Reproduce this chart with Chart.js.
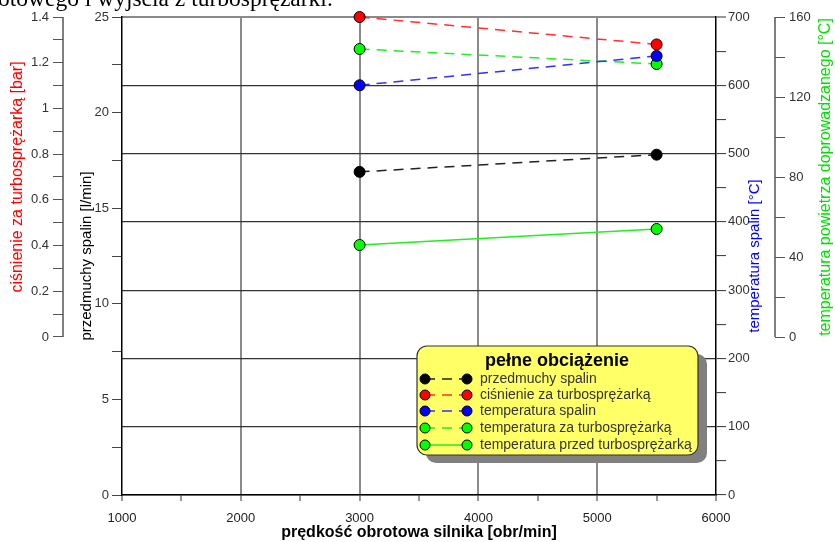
<!DOCTYPE html>
<html>
<head>
<meta charset="utf-8">
<script src="https://cdn.jsdelivr.net/npm/chart.js@4.4.1/dist/chart.umd.min.js"></script>
<style>
  body { margin: 0; background: #fff; }
  #wrap { position: relative; width: 835px; height: 542px; overflow: hidden; }
  #caption { position: absolute; left: -2px; top: -13px; font: 23.5px/23.5px "Liberation Serif", serif; color: #000; white-space: nowrap; }
</style>
</head>
<body>
<div id="wrap">
  <canvas id="chart" width="835" height="542"></canvas>
  <div id="caption">otowego i wyjścia z turbosprężarki.</div>
</div>
<script>
// data
const speeds = [3000, 5500];
const przedmuchy = [16.9, 17.8];      // l/min
const cisnienie = [1.4, 1.28];        // bar
const tempSpalin = [600, 643];        // °C
const tempZa = [144, 136.5];          // °C
const tempPrzed = [46, 54];           // °C

const xTicks = [1000, 1500, 2000, 2500, 3000, 3500, 4000, 4500, 5000, 5500, 6000];
const lTicks = [0, 2.5, 5, 7.5, 10, 12.5, 15, 17.5, 20, 22.5, 25];
const pTicks = [0, 0.1, 0.2, 0.3, 0.4, 0.5, 0.6, 0.7, 0.8, 0.9, 1, 1.1, 1.2, 1.3, 1.4];
const tTicks = [0, 50, 100, 150, 200, 250, 300, 350, 400, 450, 500, 550, 600, 650, 700];
const aTicks = [0, 20, 40, 60, 80, 100, 120, 140, 160];

const FONT = "'Liberation Sans', Arial, sans-serif";
const tickFont = { family: FONT, size: 13 };
const CLEAR = 'rgba(0,0,0,0)';

function fixedTicks(values) {
    return scale => { scale.ticks = values.map(v => ({ value: v })); };
}

function series(ys) {
    return speeds.map((x, i) => ({ x: x, y: ys[i] }));
}

function makeSet(label, ys, axis, line, fill, dash) {
    return {
        label: label,
        data: series(ys),
        yAxisID: axis,
        borderColor: line,
        borderWidth: 1.5,
        borderDash: dash,
        pointRadius: 5.5,
        pointHoverRadius: 5.5,
        pointBackgroundColor: fill,
        pointBorderColor: '#000',
        pointBorderWidth: 1,
        clip: false
    };
}

// axis titles, short axis lines and the yellow legend box
const decor = {
    id: 'decor',
    afterDraw(chart) {
        const ctx = chart.ctx;
        const s = chart.scales;
        ctx.save();

        ctx.strokeStyle = '#555';
        ctx.lineWidth = 1.5;
        ctx.beginPath();
        ctx.moveTo(s.yP.right, s.yP.getPixelForValue(0));
        ctx.lineTo(s.yP.right, s.yP.getPixelForValue(1.4));
        ctx.moveTo(s.yA.left, s.yA.getPixelForValue(0));
        ctx.lineTo(s.yA.left, s.yA.getPixelForValue(160));
        ctx.stroke();

        const titles = [
            ['ciśnienie za turbosprężarką [bar]', '#ff0000', 16, 17.5, (s.yP.getPixelForValue(0) + s.yP.getPixelForValue(1.4)) / 2],
            ['przedmuchy spalin [l/min]', '#000', 15, 87, (s.yL.top + s.yL.bottom) / 2],
            ['temperatura spalin [°C]', '#0000ff', 15, 755, (s.yT.top + s.yT.bottom) / 2],
            ['temperatura powietrza doprowadzanego [°C]', '#00e000', 16, 826, (s.yA.getPixelForValue(0) + s.yA.getPixelForValue(160)) / 2]
        ];
        titles.forEach(t => {
            ctx.save();
            ctx.translate(t[3], t[4]);
            ctx.rotate(-Math.PI / 2);
            ctx.font = t[2] + 'px ' + FONT;
            ctx.fillStyle = t[1];
            ctx.textAlign = 'center';
            ctx.textBaseline = 'middle';
            ctx.fillText(t[0], 0, 0);
            ctx.restore();
        });

        // legend
        const bx = 417, by = 346, bw = 281, bh = 109;
        ctx.fillStyle = '#808080';
        ctx.beginPath();
        ctx.roundRect(bx + 9, by + 8, bw, bh, 10);
        ctx.fill();
        ctx.fillStyle = '#ffff66';
        ctx.strokeStyle = '#333';
        ctx.lineWidth = 1.2;
        ctx.beginPath();
        ctx.roundRect(bx, by, bw, bh, 10);
        ctx.fill();
        ctx.stroke();

        ctx.fillStyle = '#000';
        ctx.font = 'bold 18px ' + FONT;
        ctx.textAlign = 'center';
        ctx.textBaseline = 'middle';
        ctx.fillText('pełne obciążenie', 557, 361);

        const rows = [379, 395, 411, 428, 445];
        chart.data.datasets.forEach((ds, i) => {
            const y = rows[i];
            ctx.strokeStyle = ds.borderColor;
            ctx.lineWidth = 1.5;
            ctx.setLineDash(ds.borderDash);
            ctx.beginPath();
            ctx.moveTo(425, y);
            ctx.lineTo(467, y);
            ctx.stroke();
            ctx.setLineDash([]);
            [425, 467].forEach(px => {
                ctx.beginPath();
                ctx.arc(px, y, 5, 0, Math.PI * 2);
                ctx.fillStyle = ds.pointBackgroundColor;
                ctx.fill();
                ctx.strokeStyle = '#000';
                ctx.lineWidth = 1;
                ctx.stroke();
            });
            ctx.fillStyle = '#333';
            ctx.font = '14px ' + FONT;
            ctx.textAlign = 'left';
            ctx.fillText(ds.label, 480, y);
        });

        ctx.restore();
    }
};

new Chart(document.getElementById('chart'), {
    type: 'line',
    data: {
        datasets: [
            makeSet('przedmuchy spalin', przedmuchy, 'yL', '#222', '#000', [10, 7]),
            makeSet('ciśnienie za turbosprężarką', cisnienie, 'yP', '#ff3030', '#ff0000', [10, 7]),
            makeSet('temperatura spalin', tempSpalin, 'yT', '#3030ff', '#0000ff', [10, 7]),
            makeSet('temperatura za turbosprężarką', tempZa, 'yA', '#22ee22', '#00ff00', [10, 7]),
            makeSet('temperatura przed turbosprężarką', tempPrzed, 'yA', '#22ee22', '#00ff00', [])
        ]
    },
    options: {
        responsive: false,
        animation: false,
        events: [],
        layout: { padding: { top: 17, left: 0, right: 0, bottom: 0 } },
        plugins: { legend: { display: false }, tooltip: { enabled: false } },
        scales: {
            x: {
                type: 'linear',
                position: 'bottom',
                min: 1000,
                max: 6000,
                afterBuildTicks: fixedTicks(xTicks),
                afterFit: s => { s.height = 47; },
                grid: {
                    color: c => (c.tick && c.tick.value % 1000 === 0 && c.tick.value > 1000 && c.tick.value < 6000) ? '#8a8a8a' : CLEAR,
                    lineWidth: 2,
                    tickColor: '#333',
                    tickWidth: 1,
                    tickLength: 6
                },
                border: { color: '#000', width: 1.5 },
                ticks: {
                    autoSkip: false,
                    maxRotation: 0,
                    padding: 10,
                    color: '#222',
                    font: tickFont,
                    callback: v => v % 1000 === 0 ? v : ''
                },
                title: {
                    display: true,
                    text: 'prędkość obrotowa silnika [obr/min]',
                    color: '#000',
                    font: { family: FONT, size: 16, weight: 'bold' },
                    padding: { top: 0, bottom: 0 }
                }
            },
            yL: {
                type: 'linear',
                position: 'left',
                weight: 1,
                min: 0,
                max: 25,
                afterBuildTicks: fixedTicks(lTicks),
                afterFit: s => { s.width = 59; },
                grid: { drawOnChartArea: false, tickColor: '#444', tickLength: 10 },
                border: { color: '#000', width: 1.5 },
                ticks: { padding: 3, color: '#333', font: tickFont, callback: v => v % 5 === 0 ? v : '' }
            },
            yP: {
                type: 'linear',
                position: 'left',
                weight: 2,
                min: -0.6913,
                max: 1.4,
                afterBuildTicks: fixedTicks(pTicks),
                afterFit: s => { s.width = 63; },
                grid: { drawOnChartArea: false, tickColor: '#555', tickLength: 10 },
                border: { display: false },
                ticks: {
                    padding: 4,
                    color: '#333',
                    font: tickFont,
                    callback: v => Math.round(v * 10) % 2 === 0 ? String(+v.toFixed(1)) : ''
                }
            },
            yT: {
                type: 'linear',
                position: 'right',
                weight: 1,
                min: 0,
                max: 700,
                afterBuildTicks: fixedTicks(tTicks),
                afterFit: s => { s.width = 59; },
                grid: {
                    color: c => !c.tick || c.tick.value % 100 !== 0 ? CLEAR : (c.tick.value === 700 ? '#8a8a8a' : '#333'),
                    lineWidth: c => c.tick && c.tick.value === 700 ? 2 : 1.2,
                    tickColor: '#333',
                    tickWidth: 1,
                    tickLength: 10
                },
                border: { color: '#000', width: 1.5 },
                ticks: { padding: 2, color: '#333', font: tickFont, callback: v => v % 100 === 0 ? v : '' }
            },
            yA: {
                type: 'linear',
                position: 'right',
                weight: 2,
                min: -79,
                max: 160,
                afterBuildTicks: fixedTicks(aTicks),
                afterFit: s => { s.width = 60; },
                grid: { drawOnChartArea: false, tickColor: '#555', tickLength: 10 },
                border: { display: false },
                ticks: { padding: 4, color: '#333', font: tickFont, callback: v => v % 40 === 0 ? v : '' }
            }
        }
    },
    plugins: [decor]
});
</script>
</body>
</html>
